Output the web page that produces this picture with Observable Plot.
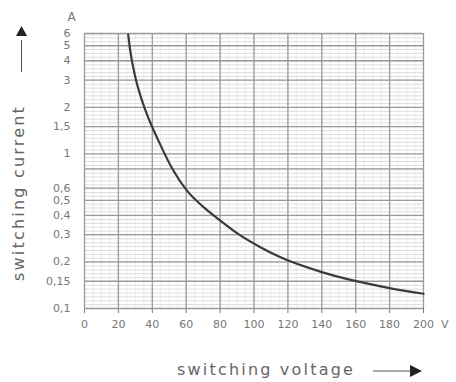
<!DOCTYPE html>
<html><head><meta charset="utf-8">
<script src="https://cdn.jsdelivr.net/npm/d3@7"></script>
<script src="https://cdn.jsdelivr.net/npm/@observablehq/plot@0.6"></script>
<style>body{margin:0;background:#fff}svg{display:block}</style>
</head><body><div id="chart"></div>
<script>
const voltage = [25.8, 26.8, 29.8, 33.7, 36.7, 44.5, 52.4, 60.3, 70.1, 79.9, 91.7, 103.5, 115.3, 140, 157, 180, 200];
const current = [5.9, 4.8, 3.2, 2.25, 1.82, 1.16, 0.78, 0.58, 0.454, 0.372, 0.298, 0.25, 0.215, 0.172, 0.153, 0.1355, 0.1245];
const xTicks = [0, 20, 40, 60, 80, 100, 120, 140, 160, 180, 200];
const yTicks = [0.1, 0.15, 0.2, 0.3, 0.4, 0.5, 0.6, 0.8, 1, 1.5, 2, 3, 4, 5, 6];
const xLabel = "switching voltage";
const yLabel = "switching current";
const xUnit = "V";
const yUnit = "A";

const curve = voltage.map((v, i) => ({v, i: current[i]}));
const xMinor = d3.range(0, 201, 5);
const yMinor = d3.range(-40, 32).map(k => Math.pow(10, k / 40)).filter(d => d >= 0.1 && d <= 6);
const fmt = d => String(d).replace(".", ",");

const svg = Plot.plot({
  width: 456, height: 382,
  marginLeft: 84, marginRight: 33, marginTop: 33, marginBottom: 74,
  style: {fontFamily: "DejaVu Sans", fontSize: "11px", color: "#777", background: "#fff"},
  x: {domain: [0, 200], ticks: xTicks, tickFormat: fmt, tickSize: 5, tickPadding: 7, label: null},
  y: {type: "log", domain: [0.1, 6], ticks: yTicks, tickFormat: fmt, tickSize: 0, tickPadding: 14, label: null},
  marks: [
    Plot.ruleY(yMinor, {stroke: "#cfcfcf", strokeWidth: 0.7}),
    Plot.ruleX(xMinor, {stroke: "#e2e2e2", strokeWidth: 0.7}),
    Plot.ruleY(yTicks, {stroke: "#9a9a9a", strokeWidth: 1.3}),
    Plot.ruleX(xTicks, {stroke: "#9a9a9a", strokeWidth: 1.3}),
    Plot.line(curve, {x: "v", y: "i", curve: "monotone-x", stroke: "#3a3a3a", strokeWidth: 2.2}),
    Plot.text([yUnit], {frameAnchor: "top-left", text: d => d, dx: -17, dy: -21, fontSize: 12, fill: "#777"}),
    Plot.text([xUnit], {frameAnchor: "bottom-right", text: d => d, dx: 25, dy: 19, fontSize: 11, fill: "#777"}),
    Plot.text([xLabel], {frameAnchor: "bottom", textAnchor: "middle", text: d => d, dx: 12, dy: 66, fontSize: 16, fill: "#666"}),
    Plot.text([yLabel], {frameAnchor: "left", textAnchor: "middle", text: d => d, rotate: -90, dx: -66, dy: 22, fontSize: 16, fill: "#666"})
  ]
});
d3.select(svg).selectAll("g[aria-label='text'] text").style("letter-spacing", function(){ return this.textContent.length > 3 ? "2.2px" : null; });
const s = d3.select(svg);
s.append("line").attr("x1", 21.5).attr("x2", 21.5).attr("y1", 40).attr("y2", 72).attr("stroke", "#555").attr("stroke-width", 1);
s.append("path").attr("d", "M16,36L27,36L21.5,26Z").attr("fill", "#222");
s.append("line").attr("x1", 373).attr("x2", 411).attr("y1", 371).attr("y2", 371).attr("stroke", "#555").attr("stroke-width", 1);
s.append("path").attr("d", "M410,365L410,377L422,371Z").attr("fill", "#222");
document.getElementById("chart").append(svg);
</script></body></html>
